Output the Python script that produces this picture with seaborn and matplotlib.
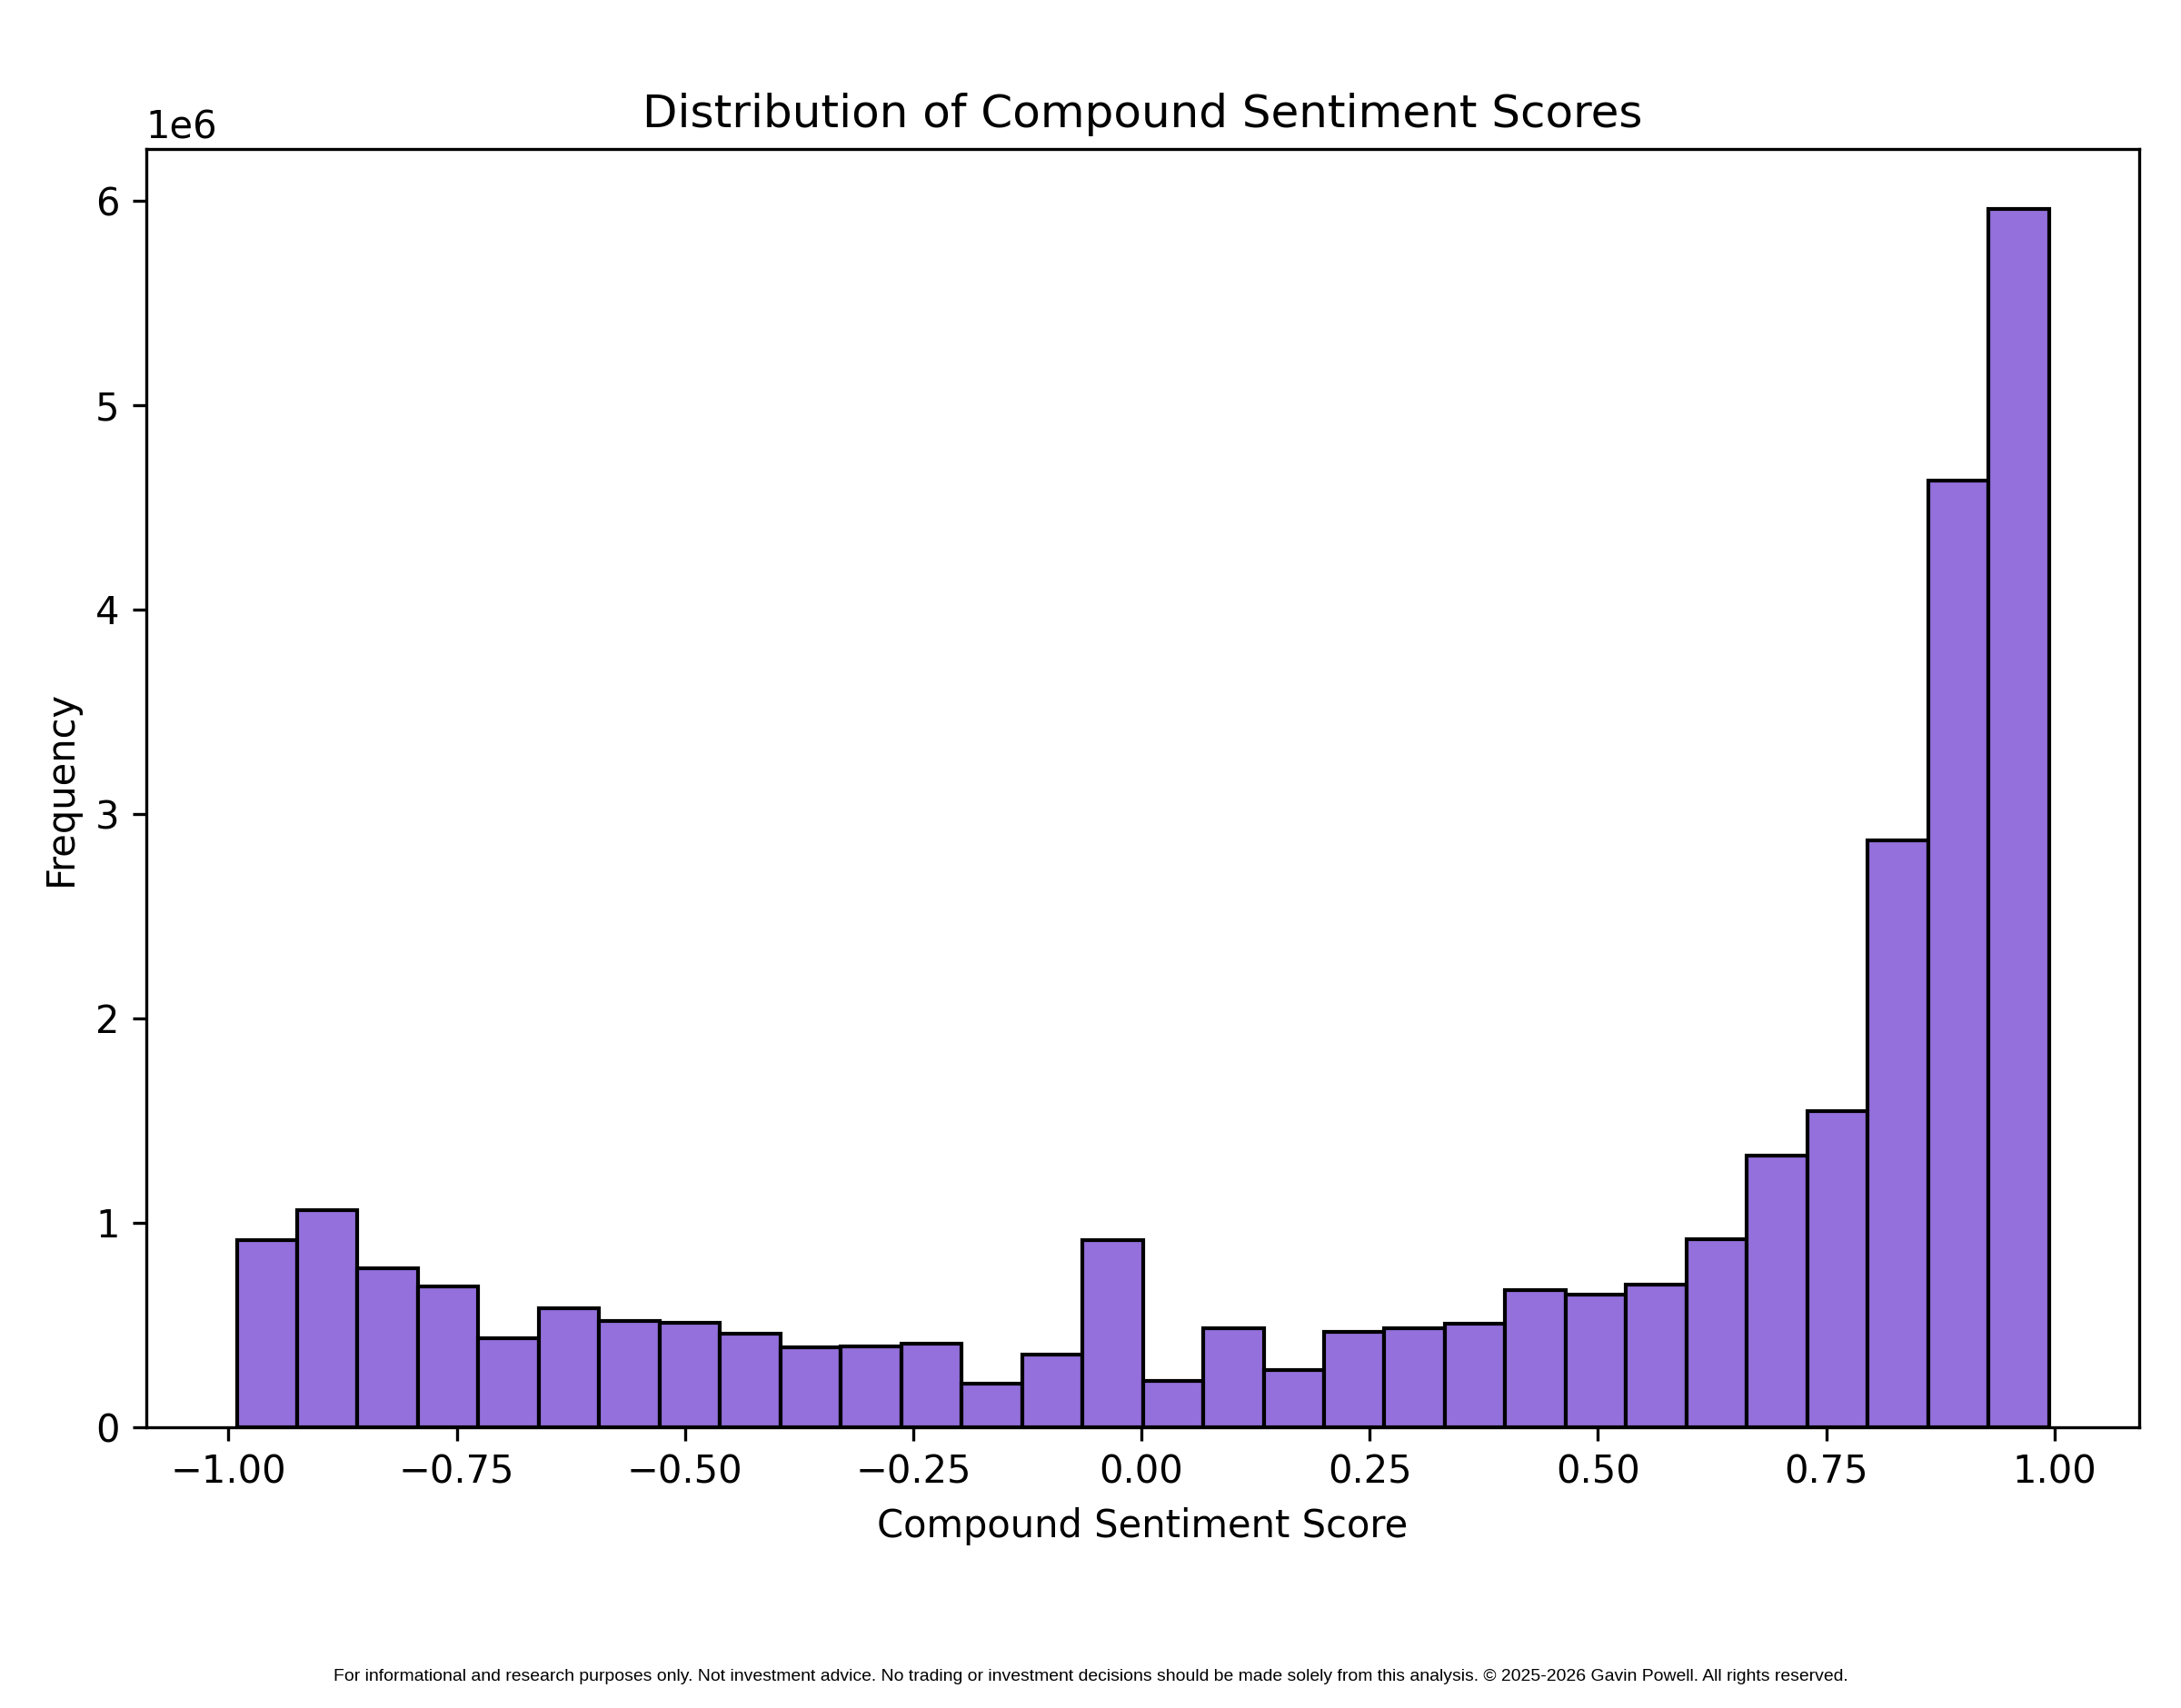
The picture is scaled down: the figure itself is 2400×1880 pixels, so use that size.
import numpy as np
import pandas as pd
import matplotlib
matplotlib.use("Agg")
import matplotlib.pyplot as plt
import seaborn as sns

bin_left = -0.991
bin_right = 0.994
n_bins = 30
counts_millions = [0.913, 1.063, 0.777, 0.688, 0.436, 0.579, 0.518, 0.511, 0.457, 0.389,
                   0.395, 0.409, 0.211, 0.354, 0.913, 0.225, 0.484, 0.279, 0.464, 0.484,
                   0.504, 0.668, 0.648, 0.695, 0.920, 1.329, 1.547, 2.870, 4.628, 5.958]

edges = np.linspace(bin_left, bin_right, n_bins + 1)
centers = (edges[:-1] + edges[1:]) / 2
df = pd.DataFrame({"score": centers, "count": np.array(counts_millions) * 1e6})

fig = plt.figure(figsize=(8, 6.2667), dpi=300)
ax = fig.add_axes([0.067, 0.1645, 0.914, 0.748])
sns.histplot(data=df, x="score", weights="count", bins=list(edges), color="#9370DB",
             alpha=1.0, edgecolor="black", linewidth=1.0, ax=ax)
ax.set_title("Distribution of Compound Sentiment Scores", fontsize=12)
ax.set_xlabel("Compound Sentiment Score", fontsize=10)
ax.set_ylabel("Frequency", fontsize=10)
ax.set_xticks([-1.0, -0.75, -0.5, -0.25, 0.0, 0.25, 0.5, 0.75, 1.0])
ax.set_xticklabels(["\u22121.00", "\u22120.75", "\u22120.50", "\u22120.25", "0.00",
                    "0.25", "0.50", "0.75", "1.00"])
ax.set_ylim(0, 6.25e6)
fig.text(0.5, 0.016, "For informational and research purposes only. Not investment advice. "
         "No trading or investment decisions should be made solely from this analysis. "
         "\u00a9 2025-2026 Gavin Powell. All rights reserved.",
         ha="center", fontsize=4.65, family=["Liberation Sans", "DejaVu Sans"])
fig.savefig("out.png", dpi=300)
